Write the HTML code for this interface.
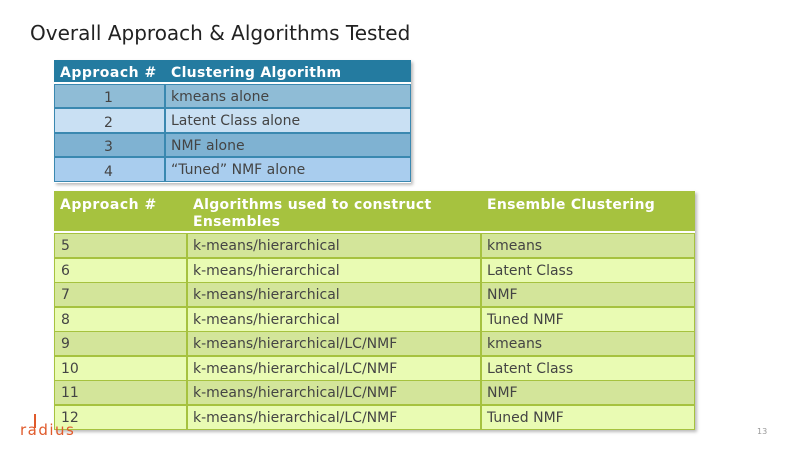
<!DOCTYPE html>
<html><head><style>
body{margin:0;width:800px;height:450px;background:#fff;position:relative;overflow:hidden;font-family:"DejaVu Sans","Liberation Sans",sans-serif;}
.a{position:absolute;box-sizing:border-box;}
.t{font-size:14px;color:#444;white-space:nowrap;}
.h{font-size:14px;color:#fff;font-weight:bold;white-space:nowrap;}
</style></head><body>
<div class="a" style="left:30px;top:21px;font-size:20px;color:#222;font-family:'DejaVu Sans',sans-serif;">Overall Approach &amp; Algorithms Tested</div>

<!-- table 1 -->
<div class="a" style="left:54px;top:60px;width:357px;height:123px;box-shadow:2px 2px 3px #bbb;">
<div class="a" style="left:0;top:0;width:357px;height:24px;background:#247ba0;border-bottom:2px solid #fff;"></div>
<div class="a" style="left:0;top:24px;width:357px;height:24px;background:#8fbcd6;border:1px solid #3a88b0;"></div>
<div class="a" style="left:0;top:48px;width:357px;height:25px;background:#c9e0f3;border:1px solid #3a88b0;"></div>
<div class="a" style="left:0;top:73px;width:357px;height:24px;background:#7fb2d2;border:1px solid #3a88b0;"></div>
<div class="a" style="left:0;top:97px;width:357px;height:25px;background:#a9cdee;border:1px solid #3a88b0;"></div>
<div class="a" style="left:110px;top:24px;width:2px;height:98px;background:#3a88b0;"></div>
<div class="a h" style="left:6px;top:5px;letter-spacing:0.5px;">Approach #</div>
<div class="a h" style="left:117px;top:5px;letter-spacing:0.3px;">Clustering Algorithm</div>
<div class="a t" style="left:50px;top:30px;">1</div><div class="a t" style="left:117px;top:29px;">kmeans alone</div>
<div class="a t" style="left:50px;top:55px;">2</div><div class="a t" style="left:117px;top:53px;">Latent Class alone</div>
<div class="a t" style="left:50px;top:79px;">3</div><div class="a t" style="left:117px;top:78px;">NMF alone</div>
<div class="a t" style="left:50px;top:104px;">4</div><div class="a t" style="left:117px;top:102px;">“Tuned” NMF alone</div>
</div>

<!-- table 2 -->
<div class="a" style="left:54px;top:191px;width:641px;height:239px;box-shadow:2px 2px 3px #bbb;background:#a6c23f;">
<div class="a" style="left:0;top:0;width:641px;height:42px;background:#a6c23f;border-bottom:2px solid #fff;"></div>
<div class="a h" style="left:6px;top:6px;letter-spacing:0.5px;">Approach #</div>
<div class="a h" style="left:139px;top:6px;line-height:17px;letter-spacing:0.3px;">Algorithms used to construct<br>Ensembles</div>
<div class="a h" style="left:433px;top:6px;letter-spacing:0.3px;">Ensemble Clustering</div>
</div>
<div id="rows"></div>
<script>
var rows=[["5","k-means/hierarchical","kmeans"],["6","k-means/hierarchical","Latent Class"],["7","k-means/hierarchical","NMF"],["8","k-means/hierarchical","Tuned NMF"],["9","k-means/hierarchical/LC/NMF","kmeans"],["10","k-means/hierarchical/LC/NMF","Latent Class"],["11","k-means/hierarchical/LC/NMF","NMF"],["12","k-means/hierarchical/LC/NMF","Tuned NMF"]];
var h="";
for(var i=0;i<8;i++){var y=233+i*24.5;var c=i%2?"#e9fbb3":"#d3e59a";
h+='<div class="a" style="left:54px;top:'+y+'px;width:641px;height:25px;background:'+c+';border:1px solid #a6c23f;"></div>';
h+='<div class="a t" style="left:61px;top:'+(y+5)+'px;">'+rows[i][0]+'</div>';
h+='<div class="a t" style="left:193px;top:'+(y+5)+'px;">'+rows[i][1]+'</div>';
h+='<div class="a t" style="left:487px;top:'+(y+5)+'px;">'+rows[i][2]+'</div>';}
h+='<div class="a" style="left:186px;top:233px;width:2px;height:197px;background:#a6c23f;"></div>';
h+='<div class="a" style="left:480px;top:233px;width:2px;height:197px;background:#a6c23f;"></div>';
document.getElementById("rows").innerHTML=h;
</script>
<div class="a" style="left:34px;top:414px;width:2px;height:14px;background:#e05a2b;"></div>
<div class="a" style="left:20px;top:421px;font-size:15px;color:#e05a2b;letter-spacing:1.5px;">radius</div>
<div class="a" style="left:757px;top:427px;font-size:8px;color:#999;">13</div>
</body></html>
